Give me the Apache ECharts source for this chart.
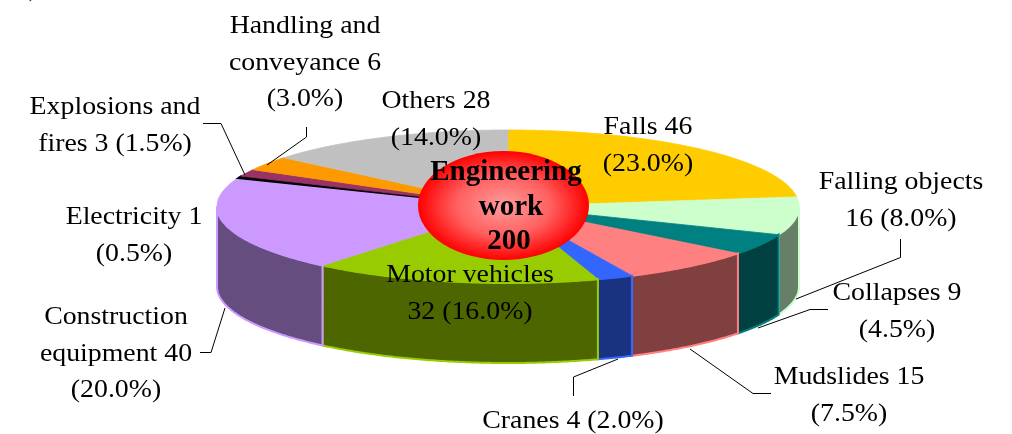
<!DOCTYPE html>
<html><head><meta charset="utf-8">
<style>html,body{margin:0;padding:0;background:#fff}#c{width:1012px;height:434px}</style>
<script src="https://cdn.jsdelivr.net/npm/echarts@6/dist/echarts.min.js"></script>
</head><body><div id="c"></div>
<script>
const categories = ['Falls','Falling objects','Collapses','Mudslides','Cranes','Motor vehicles','Construction equipment','Electricity','Explosions and fires','Handling and conveyance','Others'];
const values = [46,16,9,15,4,32,40,1,3,6,28];
const percents = ['23.0%','8.0%','4.5%','7.5%','2.0%','16.0%','20.0%','0.5%','1.5%','3.0%','14.0%'];
const topColors = ['#FFCC00','#CCFFCC','#008080','#FF8080','#3366FF','#99CC00','#CC99FF','#000000','#993366','#FF9900','#C0C0C0'];
const wallColors = ['#806600','#667F66','#004040','#804040','#1A3380','#4D6600','#664D80','#000000','#4D1A33','#804D00','#606060'];
const labelLines = [
  ['Falls 46','(23.0%)'],['Falling objects','16 (8.0%)'],['Collapses 9','(4.5%)'],['Mudslides 15','(7.5%)'],
  ['Cranes 4 (2.0%)'],['Motor vehicles','32 (16.0%)'],['Construction','equipment 40','(20.0%)'],['Electricity 1','(0.5%)'],
  ['Explosions and','fires 3 (1.5%)'],['Handling and','conveyance 6','(3.0%)'],['Others 28','(14.0%)']];
const centerLines = ['Engineering','work','200'];

const CX=508, CY=206.5, RX=291, RY=76.5, DEPTH=80;
const labelAt = [[648,109],[901,164],[897,275],[849,359],[573,403],[470,257],[116,299],[134,199],[115,89],[305,8],[436,83]];
const centerAt = [[506,158],[511,193],[509,227]];
const leaders = [
  null,
  [[900.5,239],[900.5,257.5],[796,299]],
  [[828,309.5],[810,309.5],[758,328]],
  [[771,393.5],[753,393.5],[690,349]],
  [[573.5,396],[573.5,377],[618,359]],
  null,
  [[200,352.5],[211,352.5],[225,308]],
  null,
  [[203,123.5],[221,123.5],[245,175]],
  [[306.5,127],[306.5,137],[267,165]],
  null];

const total = values.reduce((a,b)=>a+b,0);
let acc = 0;
const spans = values.map(v=>{const s=acc; acc+=v; return [s/total*Math.PI*2,acc/total*Math.PI*2];});
const pt=(a,dy)=>[CX+RX*Math.sin(a),CY-RY*Math.cos(a)+(dy||0)];
function arc(a0,a1,dy){const n=Math.max(2,Math.ceil((a1-a0)/0.01));const o=[];for(let i=0;i<=n;i++)o.push(pt(a0+(a1-a0)*i/n,dy));return o;}

function renderSlice(params){
  const i=params.dataIndex, [a0,a1]=spans[i], kids=[];
  const w0=Math.max(a0,Math.PI/2), w1=Math.min(a1,Math.PI*1.5);
  if(w1>w0){
    const edge=arc(w0,w1,0), low=arc(w0,w1,DEPTH).reverse();
    kids.push({type:'polygon',shape:{points:edge.concat(low)},style:{fill:wallColors[i],stroke:topColors[i],lineWidth:2}});
  }
  kids.push({type:'polygon',shape:{points:[[CX,CY]].concat(arc(a0,a1,0))},
    style:{fill:topColors[i],stroke:topColors[i],lineWidth:i===7?1.5:0.8}});
  return {type:'group',children:kids};
}

const font='"Liberation Serif","Times New Roman",serif';
const graphics=[];
leaders.forEach(l=>{ if(l) graphics.push({type:'polyline',z:20,shape:{points:l},style:{fill:null,stroke:'#000',lineWidth:1}}); });
labelLines.forEach((ls,i)=>{
  graphics.push({type:'text',z:30,x:labelAt[i][0],y:labelAt[i][1],scaleX:1.07,
    style:{text:ls.join('\n'),font:'26px '+font,lineHeight:36.5,fill:'#000',align:'center',verticalAlign:'top'}});
});
graphics.push({type:'circle',z:25,x:503.5,y:205.5,scaleX:85.5/54.5,shape:{r:54.5},
  style:{fill:{type:'radial',x:.5,y:.5,r:.5,colorStops:[{offset:0,color:'#FF9C9C'},{offset:.55,color:'#FF6060'},{offset:1,color:'#FF0000'}]}}});
centerLines.forEach((t,i)=>{
  graphics.push({type:'text',z:31,x:centerAt[i][0],y:centerAt[i][1],
    style:{text:t,font:'bold 29px '+font,fill:'#000',align:'center',verticalAlign:'top'}});
});
graphics.push({type:'text',z:30,x:33,y:-23,style:{text:')',font:'25px '+font,fill:'#000',align:'center',verticalAlign:'top'}});

const chart=echarts.init(document.getElementById('c'),null,{renderer:'canvas'});
chart.setOption({
  animation:false,backgroundColor:'#fff',
  series:[{type:'custom',coordinateSystem:'none',silent:true,clip:false,
    data:categories.map((n,i)=>({name:n,value:values[i]})),renderItem:renderSlice}],
  graphic:graphics
});
</script></body></html>
